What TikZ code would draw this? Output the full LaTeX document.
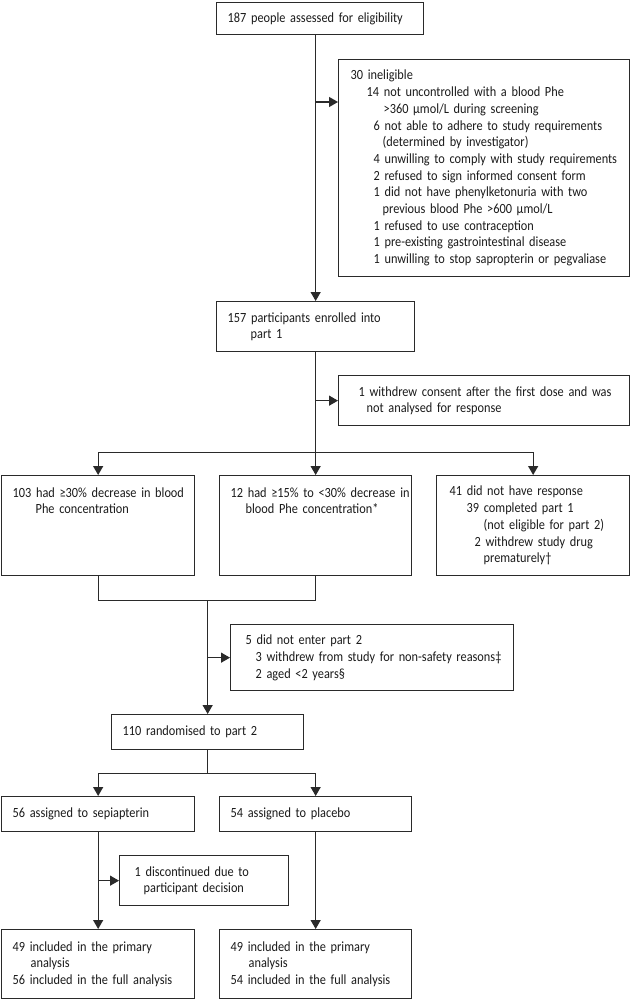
\documentclass[tikz,border=0pt]{standalone}
\usepackage{fontspec}
\setmainfont{Carlito}[FakeStretch=0.88]
\usepackage{tikz}
\usetikzlibrary{arrows.meta}
\definecolor{linegray}{HTML}{2A2A2A}
\definecolor{textgray}{HTML}{1A1A1A}
% one line of a box, optionally indented
\newcommand{\tline}[2][0]{\mbox{\hspace*{#1pt}#2}}

\begin{document}
\begin{tikzpicture}[x=1pt, y=-1pt]
	\tikzstyle{box} = [draw=linegray, line width=1.3pt, rectangle, anchor=north west, align=left, inner xsep=11pt, inner ysep=0pt, text=textgray, font={\fontsize{14}{16.7}\selectfont}];
	\tikzstyle{link} = [draw=linegray, line width=1.3pt];
	\tikzstyle{flow} = [link, -{Triangle[width=10pt, length=9pt]}];

	\useasboundingbox (0,0) rectangle (630,1000);

	% part 1
	\node[box, minimum width=207, minimum height=32, text width=185pt] (assessed) at (216,2) {\tline{187 people assessed for eligibility}};
	\node[box, minimum width=291, minimum height=217, inner xsep=12pt, text width=267pt] (ineligible) at (338,59) {%
		\tline{30 ineligible}\\
		\tline[16]{14 not uncontrolled with a blood Phe}\\
		\tline[33]{>360 µmol/L during screening}\\
		\tline[23]{6 not able to adhere to study requirements}\\
		\tline[32]{(determined by investigator)}\\
		\tline[23]{4 unwilling to comply with study requirements}\\
		\tline[23]{2 refused to sign informed consent form}\\
		\tline[23]{1 did not have phenylketonuria with two}\\
		\tline[32]{previous blood Phe >600 µmol/L}\\
		\tline[23]{1 refused to use contraception}\\
		\tline[23]{1 pre-existing gastrointestinal disease}\\
		\tline[23]{1 unwilling to stop sapropterin or pegvaliase}};
	\node[box, minimum width=198, minimum height=50, text width=176pt] (enrolled) at (216,301) {%
		\tline{157 participants enrolled into}\\
		\tline[23]{part 1}};
	\node[box, minimum width=291, minimum height=50, inner xsep=20pt, text width=251pt] (withdrew) at (338,375) {%
		\tline{1 withdrew consent after the first dose and was}\\
		\tline[8]{not analysed for response}};

	% response to part 1
	\node[box, minimum width=193, minimum height=100, text width=171pt] (resp30) at (1,475) {%
		\tline{103 had ≥30\% decrease in blood}\\
		\tline[23]{Phe concentration}\\ \mbox{}\\ \mbox{}\\ \mbox{}};
	\node[box, minimum width=192, minimum height=100, text width=170pt] (resp15) at (219,475) {%
		\tline{12 had ≥15\% to <30\% decrease in}\\
		\tline[15]{blood Phe concentration*}\\ \mbox{}\\ \mbox{}\\ \mbox{}};
	\node[box, minimum width=193, minimum height=100, inner xsep=13pt, text width=167pt] (noresp) at (436,475) {%
		\tline{41 did not have response}\\
		\tline[17]{39 completed part 1}\\
		\tline[34]{(not eligible for part 2)}\\
		\tline[25]{2 withdrew study drug}\\
		\tline[34]{prematurely†}};

	% part 2
	\node[box, minimum width=283, minimum height=66, inner xsep=15pt, text width=253pt] (notentered) at (230,624) {%
		\tline{5 did not enter part 2}\\
		\tline[10]{3 withdrew from study for non-safety reasons‡}\\
		\tline[10]{2 aged <2 years§}};
	\node[box, minimum width=192, minimum height=35, text width=170pt] (randomised) at (111,714) {\tline{110 randomised to part 2}};
	\node[box, minimum width=193, minimum height=35, text width=171pt] (sepia) at (1,796) {\tline{56 assigned to sepiapterin}};
	\node[box, minimum width=192, minimum height=35, text width=170pt] (placebo) at (219,796) {\tline{54 assigned to placebo}};
	\node[box, minimum width=169, minimum height=50, inner xsep=15pt, text width=139pt] (discont) at (119,855) {%
		\tline{1 discontinued due to}\\
		\tline[9]{participant decision}};
	\node[box, minimum width=193, minimum height=69, text width=171pt] (primsepia) at (1,929) {%
		\tline{49 included in the primary}\\
		\tline[18]{analysis}\\
		\tline{56 included in the full analysis}};
	\node[box, minimum width=192, minimum height=69, text width=170pt] (primplac) at (219,929) {%
		\tline{49 included in the primary}\\
		\tline[18]{analysis}\\
		\tline{54 included in the full analysis}};

	% connectors
	\coordinate (inelin) at ([yshift=-43pt]ineligible.north west);
	\coordinate (split) at ([yshift=-100pt]enrolled.south);
	\coordinate (join) at ([yshift=-24pt]resp30.south);
	\coordinate (split2) at ([yshift=-23pt]randomised.south);

	\draw[flow] (assessed.south -| enrolled.north) -- (enrolled.north);
	\draw[flow] (inelin -| enrolled.north) -- (inelin);
	\draw[flow] (withdrew.west -| enrolled.south) -- (withdrew.west);
	\draw[link] (enrolled.south) -- (split);
	\draw[link] (split -| resp30.north) -- (split -| noresp.north);
	\foreach \b in {resp30, resp15, noresp} {
		\draw[flow] (split -| \b.north) -- (\b.north);
	}

	\draw[link] (resp30.south) -- (join) -- (join -| resp15.south) -- (resp15.south);
	\draw[flow] (join -| randomised.north) -- (randomised.north);
	\draw[flow] (notentered.west -| randomised.north) -- (notentered.west);

	\draw[link] (randomised.south) -- (split2);
	\draw[link] (split2 -| sepia.north) -- (split2 -| placebo.north);
	\foreach \b in {sepia, placebo} {
		\draw[flow] (split2 -| \b.north) -- (\b.north);
	}
	\draw[flow] (sepia.south) -- (primsepia.north);
	\draw[flow] (discont.west -| sepia.south) -- (discont.west);
	\draw[flow] (placebo.south) -- (primplac.north);
\end{tikzpicture}
\end{document}
